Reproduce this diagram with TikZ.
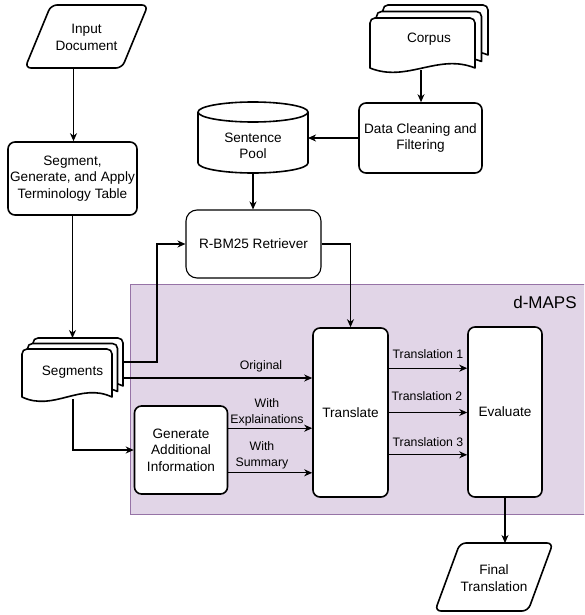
\documentclass[tikz,border=0pt]{standalone}
\usepackage{fontspec}
\setmainfont{Liberation Sans}
\usetikzlibrary{arrows.meta}
\definecolor{mapsfill}{HTML}{E1D5E7}
\definecolor{mapsdraw}{HTML}{9673A6}
\newcommand\dmnodefont{\fontsize{13.6}{16.5}\selectfont}
\newcommand\dmlblfont{\fontsize{12.3}{15.5}\selectfont}
\newcommand\dmtitlefont{\fontsize{17}{20}\selectfont}
% one document shape: x, y(top), width, height(to wave baseline)
\newcommand\docshape[4]{%
  \filldraw[shapeline,fill=white] (#1,#2+#4) -- (#1,#2+5)
    .. controls (#1,#2+2.2) and (#1+2.2,#2) .. (#1+5,#2)
    -- (#1+#3-5,#2) .. controls (#1+#3-2.2,#2) and (#1+#3,#2+2.2) .. (#1+#3,#2+5)
    -- (#1+#3,#2+#4)
    .. controls (#1+0.65*#3,#2+#4-15) and (#1+0.35*#3,#2+#4+15) .. (#1,#2+#4) -- cycle;}
% stacked documents: x, y(top of back one), width, height, offset
\newcommand\multidoc[5]{%
  \docshape{#1+2*#5}{#2}{#3}{#4}%
  \docshape{#1+#5}{#2+#5}{#3}{#4}%
  \docshape{#1}{#2+2*#5}{#3}{#4}}
\begin{document}
\begin{tikzpicture}[x=1pt,y=-1pt,
  shapeline/.style={line width=1.6pt,line join=round},
  box/.style={draw,line width=1.6pt,rounded corners=7pt,fill=white,align=center,font=\dmnodefont,inner sep=2pt},
  thinbox/.style={draw=black,line width=1.1pt,rounded corners=11pt,fill=white,align=center,font=\dmnodefont,inner sep=2pt},
  txt/.style={align=center,font=\dmnodefont,inner sep=1pt},
  lbl/.style={align=center,font=\dmlblfont,inner sep=1pt},
  conn/.style={line width=1.1pt,-{Stealth[length=8pt,width=7pt,inset=2.5pt]}}]
\useasboundingbox (0,0) rectangle (584,615);

% d-MAPS region
\begin{scope}
\clip (0,0) rectangle (584,615);
\filldraw[fill=mapsfill,draw=mapsdraw,line width=1pt] (130,284) rectangle (600,514);
\end{scope}
\node[font=\dmtitlefont,inner sep=1pt] (dmaps) at (545,302) {d-MAPS};

% Input document
\draw[shapeline,rounded corners=6pt,fill=white] (25,68) -- (51,5) -- (148,5) -- (122,68) -- cycle;
\node[txt] (input) at (86.5,37.5) {Input\\Document};
\coordinate (inS) at (73.5,68);

% Segment box
\node[box,minimum width=129pt,minimum height=73pt] (seg) at (72.5,178.5) {Segment,\\Generate, and Apply\\Terminology Table};

% Segments (stacked documents)
\multidoc{22}{338}{90}{48}{5.5}
\node[txt] (segs) at (72.5,372) {Segments};
\coordinate (segsN) at (72.5,338);
\coordinate (segsR1) at (123,362);
\coordinate (segsR2) at (123,378);
\coordinate (segsB) at (73,399);

% Corpus (stacked documents)
\multidoc{370}{5}{105}{50}{6.5}
\node[txt] (corpus) at (429,39) {Corpus};
\coordinate (corpS) at (421,70);

% Data cleaning
\node[box,minimum width=123pt,minimum height=70pt] (clean) at (420.5,138) {Data Cleaning and\\Filtering};

% Sentence pool cylinder
\filldraw[shapeline,fill=white] (198,112) -- (198,163)
  .. controls (198,168.5) and (222.6,173) .. (253,173)
  .. controls (283.4,173) and (308,168.5) .. (308,163) -- (308,112)
  .. controls (308,106.5) and (283.4,102) .. (253,102)
  .. controls (222.6,102) and (198,106.5) .. (198,112) -- cycle;
\draw[shapeline] (198,112) .. controls (198,117.5) and (222.6,122) .. (253,122)
  .. controls (283.4,122) and (308,117.5) .. (308,112);
\node[txt] (pool) at (253,146) {Sentence\\Pool};
\coordinate (poolE) at (308,138);
\coordinate (poolS) at (253,173);

% Retriever
\node[thinbox,minimum width=135pt,minimum height=68pt] (rbm) at (253.5,244) {R-BM25 Retriever};

% Generate, Translate, Evaluate
\node[box,minimum width=93pt,minimum height=88pt] (gen) at (181,450) {Generate\\Additional\\Information};
\node[box,minimum width=75pt,minimum height=169pt] (trans) at (350.5,412.5) {Translate};
\node[box,minimum width=74pt,minimum height=170pt] (eval) at (505,412) {Evaluate};

% Final translation
\draw[shapeline,rounded corners=6pt,fill=white] (435,611) -- (460,543) -- (553,543) -- (528,611) -- cycle;
\node[txt] (final) at (494,578) {Final\\Translation};
\coordinate (finN) at (506,543);

% connectors
\draw[conn] (inS) -- (inS |- seg.north);
\draw[conn] (seg.south) -- (segsN);
\draw[conn] (corpS) -- (corpS |- clean.north);
\draw[conn] (clean.west) -- (poolE);
\draw[conn] (poolS) -- (poolS |- rbm.north);
\draw[conn] (segsR1) -- ++(34,0) |- (rbm.west);
\draw[conn] (rbm.east) -| (trans.north);
\draw[conn] (segsR2) -- (segsR2 -| trans.west);
\draw[conn] (segsB) |- (gen.west);
\coordinate (gE1) at ([yshift=-23pt]gen.north east);
\coordinate (gE2) at ([yshift=22pt]gen.south east);
\draw[conn] (gE1) -- (gE1 -| trans.west);
\draw[conn] (gE2) -- (gE2 -| trans.west);
\coordinate (tE1) at ([yshift=-41pt]trans.north east);
\coordinate (tE2) at (trans.east);
\coordinate (tE3) at ([yshift=43pt]trans.south east);
\draw[conn] (tE1) -- (tE1 -| eval.west);
\draw[conn] (tE2) -- (tE2 -| eval.west);
\draw[conn] (tE3) -- (tE3 -| eval.west);
\draw[conn] (eval.south) -- (eval.south |- finN);

% labels
\node[lbl] (lorig) at (261,366) {Original};
\node[lbl] (lexp) at (267,412.5) {With\\Explainations};
\node[lbl] (lsum) at (262,455.5) {With\\Summary};
\node[lbl] (lt1) at (428,354) {Translation 1};
\node[lbl] (lt2) at (427,396) {Translation 2};
\node[lbl] (lt3) at (428,442) {Translation 3};
\end{tikzpicture}
\end{document}
